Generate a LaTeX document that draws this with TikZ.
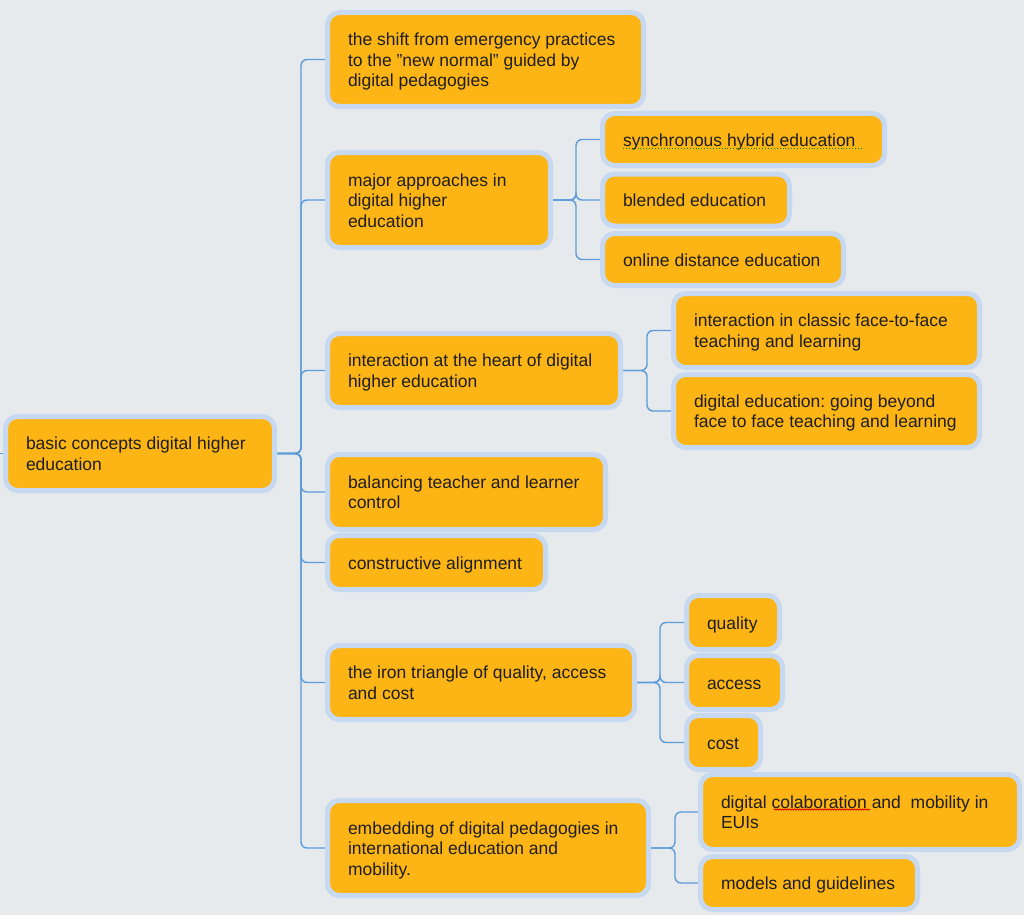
\documentclass[tikz,border=0pt]{standalone}
\usepackage{fontspec}
\setmainfont{Liberation Sans}
\usetikzlibrary{backgrounds,decorations.pathmorphing}
\definecolor{bgc}{HTML}{E7EAED}
\definecolor{boxfill}{HTML}{FDB515}
\definecolor{ringc}{HTML}{C6D9F1}
\definecolor{linec}{HTML}{5A9BD8}
\definecolor{txtc}{HTML}{1E1E1E}
\frenchspacing
\newcommand{\boxtext}[2]{\raisebox{-2.5pt}[\height][\depth]{\makebox[#1][l]{\begin{tabular}{@{}l@{}}#2\end{tabular}}}}
\begin{document}
\begin{tikzpicture}[x=1pt,y=-1pt,
  box/.style={draw=ringc, line width=5pt, fill=boxfill, rounded corners=12pt,
    text=txtc, font=\fontsize{17.5}{20.5}\selectfont,
    inner xsep=20.5pt, inner ysep=0pt, outer sep=0pt, anchor=west},
  conn/.style={draw=linec, line width=1.4pt, rounded corners=6pt}]
\useasboundingbox (0,0) rectangle (1024,915);

% root
\node[box, minimum height=74pt] (root) at (5.5,453.5) {\boxtext{228pt}{basic concepts digital higher\\education}};

% first level
\node[box, minimum height=94pt] (n1) at (327.5,59.5) {\boxtext{275pt}{the shift from emergency practices\\to the \symbol{34}new normal\symbol{34} guided by\\digital pedagogies}};
\node[box, minimum height=95pt] (n2) at (327.5,200) {\boxtext{182pt}{major approaches in\\digital higher\\education}};
\node[box, minimum height=74pt] (n3) at (327.5,370.5) {\boxtext{252pt}{interaction at the heart of digital\\higher education}};
\node[box, minimum height=75pt] (n4) at (327.5,492) {\boxtext{237pt}{balancing teacher and learner\\control}};
\node[box, minimum height=54pt] (n5) at (327.5,562.5) {\boxtext{177pt}{constructive alignment}};
\node[box, minimum height=74pt] (n6) at (327.5,682.5) {\boxtext{266pt}{the iron triangle of quality, access\\and cost}};
\node[box, minimum height=95pt] (n7) at (327.5,848) {\boxtext{280pt}{embedding of digital pedagogies in\\international education and\\mobility.}};

% children of n2
\node[box, minimum height=52pt] (s1) at (602.5,139.5) {\boxtext{241pt}{synchronous hybrid education}};
\node[box, minimum height=52pt] (s2) at (602.5,200) {\boxtext{146pt}{blended education}};
\node[box, minimum height=52pt] (s3) at (602.5,259.5) {\boxtext{200pt}{online distance education}};

% children of n3
\node[box, minimum height=74pt] (c1) at (673.5,330.5) {\boxtext{265pt}{interaction in classic face-to-face\\teaching and learning}};
\node[box, minimum height=73pt] (c2) at (673.5,411) {\boxtext{265pt}{digital education: going beyond\\face to face teaching and learning}};

% children of n6
\node[box, minimum height=54pt] (q1) at (686.5,622.5) {\boxtext{52pt}{quality}};
\node[box, minimum height=54pt] (q2) at (686.5,682.5) {\boxtext{55pt}{access}};
\node[box, minimum height=54pt] (q3) at (686.5,742.5) {\boxtext{33pt}{cost}};

% children of n7
\node[box, minimum height=75pt] (e1) at (700.5,812) {\boxtext{278pt}{digital colaboration and~ mobility in\\EUIs}};
\node[box, minimum height=53pt] (e2) at (700.5,883) {\boxtext{176pt}{models and guidelines}};

\coordinate (in) at (0,453.5);

% spell-check marks
\draw[green!55!black, line width=0.9pt, dotted] (623,148) -- (863,148);
\draw[red!85!black, line width=0.7pt, decorate, decoration={snake, amplitude=0.7pt, segment length=2.5pt}] (774,809.5) -- (870,809.5);

\begin{pgfonlayer}{background}
\fill[bgc] (0,0) rectangle (1024,915);
\draw[conn] (in) -- (root.west);
\foreach \n in {n1,n2,n3,n4,n5,n6,n7}
  \draw[conn] (root.east) -- ++(26.5,0) |- (\n.west);
\foreach \n in {s1,s2,s3}
  \draw[conn] (n2.east) -- ++(25.5,0) |- (\n.west);
\foreach \n in {c1,c2}
  \draw[conn] (n3.east) -- ++(26.5,0) |- (\n.west);
\foreach \n in {q1,q2,q3}
  \draw[conn] (n6.east) -- ++(25.5,0) |- (\n.west);
\foreach \n in {e1,e2}
  \draw[conn] (n7.east) -- ++(26.5,0) |- (\n.west);
\end{pgfonlayer}
\end{tikzpicture}
\end{document}
